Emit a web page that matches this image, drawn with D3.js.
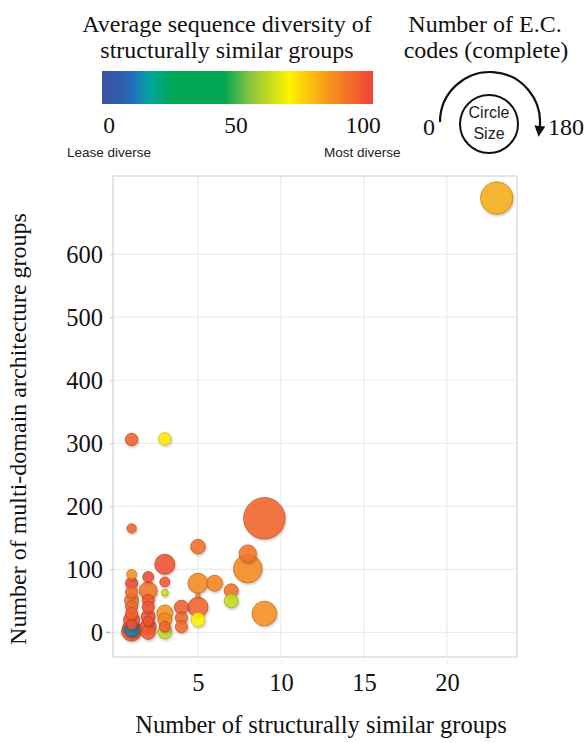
<!DOCTYPE html>
<html>
<head>
<meta charset="utf-8">
<script src="https://cdn.jsdelivr.net/npm/d3@7"></script>
<style>
  body { margin: 0; background: #fff; }
  svg { display: block; }
  .serif { font-family: "Liberation Serif", "Times New Roman", serif; fill: #111; }
  .sans { font-family: "Liberation Sans", Arial, sans-serif; fill: #222; }
</style>
</head>
<body>
<div id="chart"></div>
<script>
'use strict';

// one entry per bubble
const structGroups = [23, 9, 8, 9, 8, 3, 5, 1, 3, 1, 5, 6, 5, 7, 7, 5, 5, 4, 4, 4, 3, 3, 3, 3, 3, 3,
    2, 2, 2, 2, 2, 2, 2, 1, 1, 1, 1, 1, 1, 1, 1, 1, 1, 2, 1];
const archGroups = [689, 181, 101, 30, 125, 108, 136, 306, 307, 165, 78, 78, 40, 66, 50, 20, 59, 40, 23, 9, 80, 63, 31, 20, 9, 1,
    88, 66, 51, 40, 25, 9, 0, 92, 78, 64, 51, 41, 30, 20, 7, 5, 12, 18, 2];
const diversity = [80, 93, 86, 85, 90, 97, 91, 93, 70, 93, 86, 87, 93, 91, 62, 69, 87, 94, 93, 92, 95, 63, 84, 86, 94, 62,
    98, 90, 95, 97, 97, 96, 95, 84, 98, 92, 90, 92, 94, 95, 96, 14, 97, 96, 95];
const ecCodes = [108, 175, 83, 62, 31, 41, 22, 16, 16, 9, 41, 26, 41, 20, 20, 20, 2, 20, 15, 15, 10, 5, 26, 20, 12, 20,
    12, 33, 15, 15, 20, 26, 20, 10, 15, 15, 20, 15, 15, 26, 33, 20, 10, 10, 41];

const xTicks = [5, 10, 15, 20];
const yTicks = [0, 100, 200, 300, 400, 500, 600];
const barTicks = [0, 50, 100];

const width = 586, height = 743;
const plot = { left: 113, right: 517, top: 176, bottom: 657 };

const svg = d3.select('#chart').append('svg')
    .attr('width', width)
    .attr('height', height);

const defs = svg.append('defs');

// rainbow used by the colour bar and the bubbles
const stops = [
    [0, '#3953a4'], [0.08, '#2e5fae'], [0.12, '#1c75bc'], [0.18, '#00a79d'], [0.26, '#00a651'],
    [0.45, '#00a651'], [0.55, '#8dc63f'], [0.69, '#fff200'], [0.84, '#f7941d'], [1, '#ef4136']
];
const color = d3.scaleLinear()
    .domain(stops.map(s => s[0] * 100))
    .range(stops.map(s => s[1]))
    .interpolate(d3.interpolateRgb);

const grad = defs.append('linearGradient').attr('id', 'rainbow');
stops.forEach(s => grad.append('stop').attr('offset', s[0]).attr('stop-color', s[1]));

const shadow = defs.append('filter').attr('id', 'shadow')
    .attr('x', '-30%').attr('y', '-30%').attr('width', '160%').attr('height', '160%');
shadow.append('feDropShadow').attr('dx', 1).attr('dy', 1.5).attr('stdDeviation', 1)
    .attr('flood-color', '#000').attr('flood-opacity', 0.25);

defs.append('marker').attr('id', 'arrow')
    .attr('viewBox', '0 0 10 10').attr('refX', 2).attr('refY', 5)
    .attr('markerWidth', 5).attr('markerHeight', 5).attr('markerUnits', 'strokeWidth')
    .attr('orient', 'auto')
    .append('path').attr('d', 'M0,0 L10,5 L0,10 z').attr('fill', '#111');

// ---- legend: colour bar
const barScale = d3.scaleLinear().domain([0, 100]).range([109, 363]);

svg.append('text').attr('class', 'serif').attr('x', 227).attr('y', 32)
    .attr('text-anchor', 'middle').attr('font-size', 24)
    .text('Average sequence diversity of');
svg.append('text').attr('class', 'serif').attr('x', 227).attr('y', 58)
    .attr('text-anchor', 'middle').attr('font-size', 24)
    .text('structurally similar groups');

svg.append('rect').attr('x', 102).attr('y', 71).attr('width', 271).attr('height', 33)
    .attr('fill', 'url(#rainbow)');

svg.selectAll('.barTick').data(barTicks).enter().append('text')
    .attr('class', 'serif barTick')
    .attr('x', d => barScale(d)).attr('y', 133)
    .attr('text-anchor', 'middle').attr('font-size', 23.5)
    .text(d => d);

svg.append('text').attr('class', 'sans').attr('x', 67).attr('y', 157)
    .attr('font-size', 13.5).text('Lease diverse');
svg.append('text').attr('class', 'sans').attr('x', 324).attr('y', 157)
    .attr('font-size', 13.5).text('Most diverse');

// ---- legend: circle size
svg.append('text').attr('class', 'serif').attr('x', 485).attr('y', 32)
    .attr('text-anchor', 'middle').attr('font-size', 24).text('Number of E.C.');
svg.append('text').attr('class', 'serif').attr('x', 486).attr('y', 58)
    .attr('text-anchor', 'middle').attr('font-size', 24).text('codes (complete)');

svg.append('circle').attr('cx', 489).attr('cy', 124).attr('r', 29)
    .attr('fill', 'none').attr('stroke', '#111').attr('stroke-width', 2);
svg.append('text').attr('class', 'sans').attr('x', 489).attr('y', 118)
    .attr('text-anchor', 'middle').attr('font-size', 16).text('Circle');
svg.append('text').attr('class', 'sans').attr('x', 489).attr('y', 139)
    .attr('text-anchor', 'middle').attr('font-size', 16).text('Size');

const arc = d3.path();
arc.arc(490, 122, 50, Math.PI, 2 * Math.PI + 0.12, false);
svg.append('path').attr('d', arc.toString())
    .attr('fill', 'none').attr('stroke', '#111').attr('stroke-width', 2.2)
    .attr('marker-end', 'url(#arrow)');

svg.append('text').attr('class', 'serif').attr('x', 429).attr('y', 135)
    .attr('text-anchor', 'middle').attr('font-size', 24).text('0');
svg.append('text').attr('class', 'serif').attr('x', 548).attr('y', 135)
    .attr('font-size', 24).text('180');

// ---- scatter
const x = d3.scaleLinear().domain([-0.12, 24.22]).range([plot.left, plot.right]);
const y = d3.scaleLinear().domain([-39, 724]).range([plot.bottom, plot.top]);
const r = d3.scaleSqrt().domain([0, 180]).range([0, 21]);

const g = svg.append('g');

g.selectAll('.vgrid').data(xTicks).enter().append('line')
    .attr('x1', d => x(d)).attr('x2', d => x(d))
    .attr('y1', plot.top).attr('y2', plot.bottom)
    .attr('stroke', '#ebebeb').attr('stroke-width', 1.2);
g.selectAll('.hgrid').data(yTicks).enter().append('line')
    .attr('x1', plot.left).attr('x2', plot.right)
    .attr('y1', d => y(d)).attr('y2', d => y(d))
    .attr('stroke', '#ebebeb').attr('stroke-width', 1.2);

g.append('rect')
    .attr('x', plot.left).attr('y', plot.top)
    .attr('width', plot.right - plot.left).attr('height', plot.bottom - plot.top)
    .attr('fill', 'none').attr('stroke', '#d9dde2').attr('stroke-width', 1.5);

const xAxis = g.append('g')
    .attr('transform', `translate(0,${plot.bottom})`)
    .call(d3.axisBottom(x).tickValues(xTicks).tickSize(7).tickPadding(10));
xAxis.select('.domain').remove();
xAxis.selectAll('line').attr('stroke', '#eceef0').attr('y1', 3);
xAxis.selectAll('text').attr('class', 'serif').attr('font-size', 24.5).attr('fill', '#111');

const yAxis = g.append('g')
    .attr('transform', `translate(${plot.left},0)`)
    .call(d3.axisLeft(y).tickValues(yTicks).tickSize(3).tickPadding(7));
yAxis.select('.domain').remove();
yAxis.selectAll('line').attr('stroke', '#c8ccd0');
yAxis.selectAll('text').attr('class', 'serif').attr('font-size', 24.5).attr('fill', '#111');
yAxis.append('line')
    .attr('x1', -7).attr('x2', -3).attr('y1', y(0)).attr('y2', y(0))
    .attr('stroke', '#9cc4e8').attr('stroke-width', 1.5);

const points = structGroups.map((d, i) => ({
    gx: d, gy: archGroups[i], div: diversity[i], ec: ecCodes[i]
})).sort((a, b) => b.ec - a.ec);

g.selectAll('.bubble').data(points).enter().append('circle')
    .attr('class', 'bubble')
    .attr('cx', d => x(d.gx))
    .attr('cy', d => y(d.gy))
    .attr('r', d => r(d.ec))
    .attr('fill', d => color(d.div))
    .attr('fill-opacity', 0.85)
    .attr('stroke', d => d3.color(color(d.div)).darker(0.7))
    .attr('stroke-width', 0.8)
    .attr('filter', 'url(#shadow)');

// ---- axis titles
svg.append('text').attr('class', 'serif')
    .attr('x', 321).attr('y', 733)
    .attr('text-anchor', 'middle').attr('font-size', 24.5)
    .text('Number of structurally similar groups');

svg.append('text').attr('class', 'serif')
    .attr('transform', 'translate(26,429) rotate(-90)')
    .attr('text-anchor', 'middle').attr('font-size', 24)
    .text('Number of multi-domain architecture groups');
</script>
</body>
</html>
